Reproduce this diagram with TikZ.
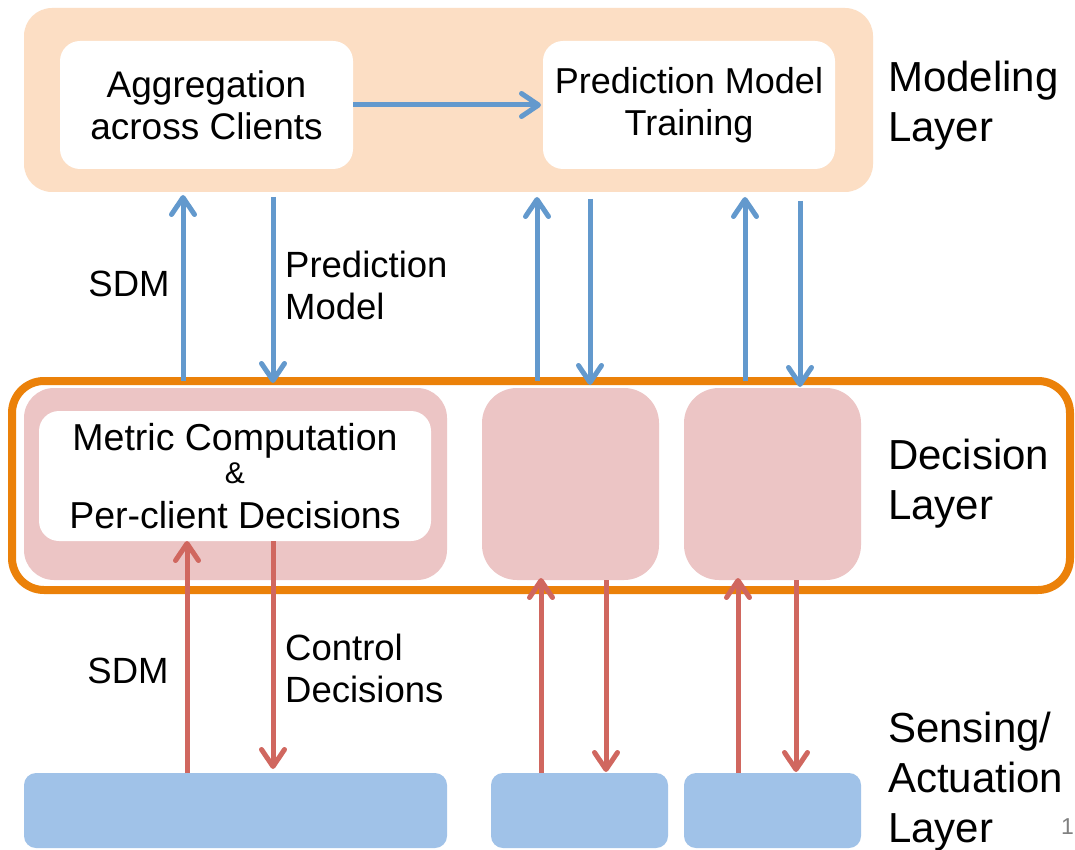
\documentclass[tikz,border=0pt]{standalone}
\usepackage{fontspec}
\setmainfont{Liberation Sans}
\usetikzlibrary{arrows.meta}
\definecolor{peach}{RGB}{252,222,196}
\definecolor{pinkbox}{RGB}{236,197,197}
\definecolor{lblue}{RGB}{160,194,232}
\definecolor{arrowblue}{RGB}{99,153,205}
\definecolor{arrowred}{RGB}{208,103,95}
\definecolor{orng}{RGB}{235,129,9}
\begin{document}
\begin{tikzpicture}[x=1pt,y=-1pt,
  box/.style={rectangle, rounded corners=#1, inner sep=0pt, outer sep=0pt},
  box/.default=20pt,
  lbltxt/.style={inner sep=0pt, font=\fontsize{36.5}{42}\selectfont},
  laytxt/.style={inner sep=0pt, anchor=west, align=left, font=\fontsize{42}{50}\selectfont},
  barrow/.style={draw=arrowblue, line width=5pt, -{Straight Barb[length=17pt,width=23pt,round]}},
  rarrow/.style={draw=arrowred, line width=5pt, -{Straight Barb[length=17pt,width=23pt,round]}}]
\useasboundingbox (0,0) rectangle (1075,850);
\fill[white] (0,0) rectangle (1075,850);

% Modeling layer
\node[box=28pt, fill=peach, minimum width=849pt, minimum height=184pt] (mod) at (448.5,100) {};
\node[box=20pt, fill=white, minimum width=293pt, minimum height=128pt, align=center, font=\fontsize{37}{42}\selectfont] (agg) at (206.5,105) {Aggregation\\across Clients};
\node[box=20pt, fill=white, minimum width=292pt, minimum height=128pt, align=center, font=\fontsize{36}{42}\selectfont] (pred) at (689,105) {Prediction Model\\Training};
\node[laytxt] (lmod) at (888,106) {Modeling\\Layer};
\draw[barrow, shorten >=2pt] (agg.east) -- (pred.west);

% Decision layer
\node[box=30pt, fill=pinkbox, minimum width=423pt, minimum height=192pt] (p1) at (235.5,484) {};
\node[box=20pt, fill=white, minimum width=392pt, minimum height=130pt, align=center, font=\fontsize{37.5}{41}\selectfont] (wb) at (235,476) {Metric Computation\\[-8pt]{\fontsize{30}{30}\selectfont\&}\\[4pt]Per-client Decisions};
\node[box=35pt, fill=pinkbox, minimum width=177pt, minimum height=192pt] (p2) at (570.5,484) {};
\node[box=35pt, fill=pinkbox, minimum width=177pt, minimum height=192pt] (p3) at (772.5,484) {};
\node[draw=orng, line width=8pt, rounded corners=32pt, minimum width=1058pt, minimum height=209pt, inner sep=0pt, outer sep=0pt] (dec) at (541,485.5) {};
\node[laytxt] (ldec) at (888,484) {Decision\\Layer};

% Sensing / actuation layer
\node[box=12pt, fill=lblue, minimum width=423pt, minimum height=75pt] (b1) at (235.5,810.5) {};
\node[box=12pt, fill=lblue, minimum width=177pt, minimum height=75pt] (b2) at (579.5,810.5) {};
\node[box=12pt, fill=lblue, minimum width=177pt, minimum height=75pt] (b3) at (772.5,810.5) {};
\node[laytxt] (lsen) at (888,782) {Sensing/\\Actuation\\Layer};
\node[inner sep=0pt, anchor=west, text=gray, font=\fontsize{23}{23}\selectfont] (pg) at (1061,827) {1};

% x positions of connectors
\coordinate (ua) at (183,0);
\coordinate (da) at (273,0);
\coordinate (ub) at (537,0);
\coordinate (db) at (590,0);
\coordinate (uc) at (745,0);
\coordinate (dc) at (800,0);
\coordinate (ra) at (187,0);
\coordinate (rda) at (273,0);
\coordinate (rb) at (541,0);
\coordinate (rdb) at (606,0);
\coordinate (rc) at (738,0);
\coordinate (rdc) at (796,0);

% blue connectors
\draw[barrow, shorten >=3pt] (dec.north -| ua) -- (mod.south -| ua);
\draw[barrow, shorten <=5pt, shorten >=-2pt] (mod.south -| da) -- (dec.north -| da);
\draw[barrow, shorten >=5pt] (dec.north -| ub) -- (mod.south -| ub);
\draw[barrow, shorten <=7pt, shorten >=-4pt] (mod.south -| db) -- (dec.north -| db);
\draw[barrow, shorten >=5pt] (dec.north -| uc) -- (mod.south -| uc);
\draw[barrow, shorten <=9pt, shorten >=-6pt] (mod.south -| dc) -- (dec.north -| dc);
\node[lbltxt] (sdm1) at (129,284) {SDM};
\node[lbltxt, anchor=west, align=left] (pm) at (285,285) {Prediction\\Model};

% red connectors
\draw[rarrow] (b1.north -| ra) -- (wb.south -| ra);
\draw[rarrow, shorten >=4pt] (wb.south -| rda) -- (b1.north -| rda);
\draw[rarrow, shorten >=-2pt] (b2.north -| rb) -- (p2.south -| rb);
\draw[rarrow, shorten >=1pt] (p2.south -| rdb) -- (b2.north -| rdb);
\draw[rarrow, shorten >=-2pt] (b3.north -| rc) -- (p3.south -| rc);
\draw[rarrow, shorten >=1pt] (p3.south -| rdc) -- (b3.north -| rdc);
\node[lbltxt] (sdm2) at (128,671) {SDM};
\node[lbltxt, anchor=west, align=left] (cd) at (285,668) {Control\\Decisions};
\end{tikzpicture}
\end{document}
